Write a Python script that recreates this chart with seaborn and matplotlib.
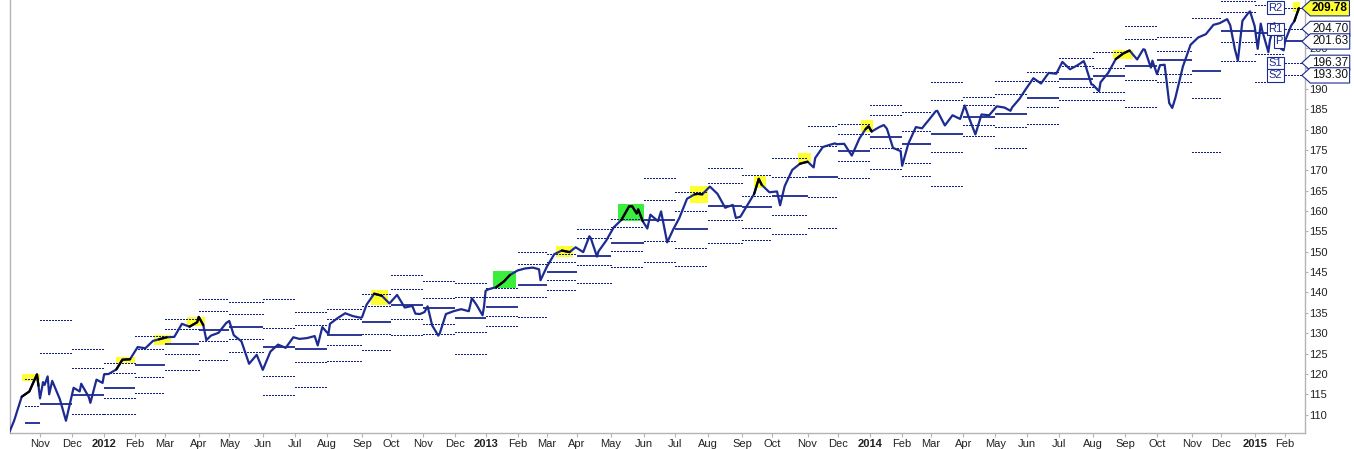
import numpy as np
import pandas as pd
import matplotlib
matplotlib.use("Agg")
import matplotlib.pyplot as plt
import matplotlib.transforms as mtransforms
from matplotlib.path import Path
from matplotlib.patches import Rectangle
import seaborn as sns

sns.set_theme(style="white")
plt.rcParams["font.family"] = ["Liberation Sans", "DejaVu Sans"]

# ---------------- data ----------------
first_day = "2011-10-04"
last_day = "2015-02-13"
market_holidays = ["2011-11-24", "2011-12-26", "2012-01-02", "2012-01-16", "2012-02-20",
                   "2012-04-06", "2012-05-28", "2012-07-04", "2012-09-03", "2012-10-29",
                   "2012-10-30", "2012-11-22", "2012-12-25", "2013-01-01", "2013-01-21",
                   "2013-02-18", "2013-03-29", "2013-05-27", "2013-07-04", "2013-09-02",
                   "2013-11-28", "2013-12-25", "2014-01-01", "2014-01-20", "2014-02-17",
                   "2014-04-18", "2014-05-26", "2014-07-04", "2014-09-01", "2014-11-27",
                   "2014-12-25", "2015-01-01", "2015-01-19"]

# first session, then the close of every week
weekly_close = [
    105.8, 108.5, 114.4, 115.7, 119.9, 117.3, 118.3, 113.8, 108.5, 116.6, 117.6, 114.3, 118.6, 117.8,
    120.0, 121.1, 123.5, 123.6, 126.6, 126.3, 128.1, 128.5, 129.0, 129.1, 132.3, 131.6, 132.7,
    132.0, 129.4, 130.1, 132.5, 129.5, 128.0, 122.5, 124.7, 121.0, 125.5, 127.2, 126.4, 129.0,
    128.6, 128.8, 129.3, 131.5, 132.3, 133.7, 134.9, 134.2, 133.8, 137.0, 139.7, 139.2, 137.3,
    139.4, 136.3, 136.7, 134.7, 135.2, 131.9, 130.0, 134.7, 135.4, 135.9, 135.4, 137.0, 134.4, 140.8,
    141.3, 142.7, 144.3, 145.4, 145.9, 146.1, 145.7, 146.2, 149.4, 150.3, 149.9, 151.1,
    149.9, 153.3, 150.1, 152.7, 156.0, 157.8, 161.1, 159.4, 157.5, 159.1, 157.5, 154.2, 155.5,
    158.3, 163.0, 164.1, 164.1, 166.0, 164.2, 160.8, 161.5, 158.6, 161.1, 164.2, 166.4, 164.6,
    164.8, 166.1, 170.1, 171.6, 172.1, 173.0, 175.7, 176.3, 176.4, 176.5, 173.6, 177.8, 180.1, 179.5,
    180.6, 180.2, 175.5, 174.7, 176.5, 180.6, 180.3, 182.6, 184.6, 181.0, 183.5, 182.6,
    183.7, 178.8, 183.7, 183.5, 185.7, 185.4, 185.4, 187.6, 189.9, 192.6, 191.3, 193.9, 193.7,
    196.6, 194.8, 195.8, 195.9, 191.0, 191.6, 193.9, 197.3, 198.7, 199.4, 197.2, 199.6, 196.9,
    195.8, 189.7, 187.7, 195.5, 200.8, 202.6, 203.4, 205.7, 206.1, 207.1, 199.8, 206.7, 208.7, 205.4,
    204.25, 201.9, 204.97, 199.45, 205.55, 209.78,
]

# notable single sessions between the weekly closes
extra_dates = ["2011-10-31", "2011-11-01", "2011-11-03", "2011-11-08", "2011-11-09", "2011-12-08",
               "2011-12-19", "2012-01-03", "2012-04-02", "2012-04-10", "2012-05-01", "2012-07-24",
               "2012-08-02", "2012-09-04", "2012-10-23", "2012-11-06", "2012-11-15", "2012-12-18",
               "2012-12-31", "2013-01-02", "2013-02-25", "2013-04-11", "2013-04-18", "2013-05-21",
               "2013-05-28", "2013-06-05", "2013-06-18", "2013-06-24", "2013-07-23", "2013-08-27",
               "2013-09-18", "2013-10-08", "2013-11-07", "2013-11-27", "2013-12-31", "2014-01-15",
               "2014-02-03", "2014-03-06", "2014-04-02", "2014-05-15", "2014-07-24", "2014-07-31",
               "2014-08-07", "2014-09-18", "2014-09-25", "2014-10-01", "2014-10-08", "2014-10-13",
               "2014-10-15", "2014-12-09", "2014-12-16", "2014-12-29", "2015-01-06", "2015-01-08",
               "2015-01-15", "2015-01-22", "2015-01-26", "2015-01-28", "2015-02-02", "2015-02-10"]
extra_close = [117.1, 114.0, 118.0, 119.4, 115.0, 115.7,
               112.9, 119.9, 134.0, 128.3, 133.0, 127.0,
               129.8, 133.9, 134.8, 136.6, 129.4, 138.6,
               136.6, 140.4, 143.0, 153.8, 148.8, 161.2,
               160.4, 155.7, 159.9, 152.3, 164.2, 158.3,
               167.9, 161.4, 170.7, 176.6, 180.8, 181.1,
               171.1, 184.5, 185.9, 184.6, 196.8, 191.1,
               189.4, 199.7, 195.2, 193.6, 195.9, 186.5,
               185.3, 205.6, 196.9, 209.0, 199.8, 206.0,
               199.0, 206.1, 205.4, 199.9, 201.8, 206.6]

# previous-month high / low / close used for the monthly pivots (Sep 2011 .. Jan 2015)
prev_high = [114.57, 120.77, 119.58, 118.94, 125.22, 129.67, 133.69, 134.27, 133.89, 129.12,
             132.07, 135.68, 140.52, 140.33, 137.12, 138.72, 144.95, 147.12, 151.22, 154.17,
             162.98, 160.13, 164.78, 166.01, 168.32, 173.08, 177.19, 180.87, 181.38, 183.43,
             185.20, 186.88, 189.90, 194.46, 197.15, 198.90, 200.52, 200.81, 206.96, 208.94, 206.88]
prev_low = [103.84, 100.39, 108.45, 112.66, 118.21, 123.50, 126.23, 128.14, 122.13, 119.96,
            125.78, 128.83, 133.10, 133.87, 128.43, 133.94, 136.92, 142.71, 144.59, 148.22,
            152.75, 151.04, 155.65, 158.03, 158.93, 160.53, 170.60, 172.91, 173.51, 170.66,
            180.32, 178.72, 183.56, 189.30, 191.14, 188.96, 195.03, 181.16, 199.50, 196.87, 198.55]
prev_close = [105.45, 117.06, 116.72, 117.84, 123.23, 128.51, 132.68, 131.96, 123.95, 129.00,
              130.90, 133.77, 137.30, 134.72, 135.39, 136.63, 143.82, 145.56, 151.11, 154.17,
              157.53, 155.49, 163.51, 158.56, 163.62, 171.26, 176.43, 180.77, 174.69, 182.60,
              184.05, 185.57, 189.86, 193.67, 191.14, 198.74, 195.85, 200.80, 206.14, 205.48, 199.45]
pivot_first_start = "2011-10-18"

# highlighted stretches (price reaching R2 / beyond)
hl_start = ["2011-10-14", "2012-01-13", "2012-02-21", "2012-03-21", "2012-09-12", "2013-01-09",
            "2013-03-11", "2013-05-08", "2013-07-16", "2013-09-13", "2013-10-24", "2013-12-23",
            "2014-08-20", "2015-02-09"]
hl_end = ["2011-10-31", "2012-01-31", "2012-03-06", "2012-04-05", "2012-09-26", "2013-01-30",
          "2013-03-25", "2013-05-31", "2013-07-31", "2013-09-24", "2013-11-04", "2014-01-03",
          "2014-09-08", "2015-02-13"]
hl_low = [118.3, 122.6, 127.1, 131.8, 136.9, 141.1, 148.8, 157.6, 161.9, 165.6, 171.7, 179.5, 197.2, 208.9]
hl_high = [119.9, 124.1, 129.6, 134.0, 140.5, 145.3, 151.5, 161.7, 166.1, 168.6, 174.3, 182.3, 199.5, 211.2]
hl_kind = ["y", "y", "y", "y", "y", "g", "y", "g", "y", "y", "y", "y", "y", "y"]

month_labels = ["Nov", "Dec",
                "2012", "Feb", "Mar", "Apr", "May", "Jun", "Jul", "Aug", "Sep", "Oct", "Nov", "Dec",
                "2013", "Feb", "Mar", "Apr", "May", "Jun", "Jul", "Aug", "Sep", "Oct", "Nov", "Dec",
                "2014", "Feb", "Mar", "Apr", "May", "Jun", "Jul", "Aug", "Sep", "Oct", "Nov", "Dec",
                "2015", "Feb"]
y_tick_values = list(range(110, 211, 5))
y_tick_hidden = [195, 205, 210]          # covered by the level tags in the reference
pivot_names = ["R2", "R1", "P", "S1", "S2"]

# ---------------- build ----------------
days = pd.bdate_range(first_day, last_day)
days = days[~days.isin(pd.to_datetime(market_holidays))]
day_pos = pd.Series(np.arange(len(days)), index=days)
x_right = len(days) + 3

week_ends = pd.Series(days, index=days).groupby(days.to_period("W-FRI")).max()
sample_dates = pd.DatetimeIndex([days[0]]).append(pd.DatetimeIndex(week_ends.values))
price = pd.Series(weekly_close, index=sample_dates)
extra = pd.Series(extra_close, index=pd.to_datetime(extra_dates))
price = pd.concat([price, extra])
price = price[~price.index.duplicated()].sort_index()
df = pd.DataFrame({"x": day_pos[price.index].values, "close": price.values,
                   "date": price.index})

NAVY = "#1c2b8f"
LINE = "#111f86"

fig = plt.figure(figsize=(13.54, 4.49), dpi=100)
ax = fig.add_axes([9.5 / 1354, 16 / 449, (1305 - 9.5) / 1354, 433 / 449])

# highlights
for s, e, lo, hi, k in zip(hl_start, hl_end, hl_low, hl_high, hl_kind):
    xs = np.searchsorted(days, pd.Timestamp(s))
    xe = min(np.searchsorted(days, pd.Timestamp(e)) + 1, x_right)
    ax.add_patch(Rectangle((xs, lo), xe - xs, hi - lo,
                           facecolor="#ffff30" if k == "y" else "#3cee3c",
                           edgecolor="none", zorder=1))

# monthly pivots
months = pd.period_range("2011-10", "2015-02", freq="M")
day_months = days.to_period("M")
levels_last = None
for i, m in enumerate(months):
    H, L, C = prev_high[i], prev_low[i], prev_close[i]
    P = (H + L + C) / 3
    R1, S1 = 2 * P - L, 2 * P - H
    R2, S2 = P + (H - L), P - (H - L)
    mdays = days[day_months == m]
    xs = day_pos[mdays[0]] if i > 0 else day_pos[pd.Timestamp(pivot_first_start)]
    xe = day_pos[mdays[-1]] + 1 if i < len(months) - 1 else x_right
    for lvl in (R2, R1, S1, S2):
        ax.hlines(lvl, xs, xe, colors=LINE, linewidth=0.75, linestyles=(0, (1.3, 1.3)),
                  antialiased=False, zorder=2)
    ax.hlines(P, xs, xe, colors=LINE, linewidth=1.25, zorder=2)
    levels_last = dict(R2=R2, R1=R1, P=P, S1=S1, S2=S2)
    feb_start = xs

# price line
sns.lineplot(data=df, x="x", y="close", ax=ax, color=NAVY, linewidth=1.6,
             estimator=None, sort=False, zorder=3)
for s, e in zip(hl_start, hl_end):
    seg = df[(df["date"] >= pd.Timestamp(s)) & (df["date"] <= pd.Timestamp(e))]
    if len(seg) >= 2:
        ax.plot(seg["x"], seg["close"], color="black", linewidth=1.6, zorder=4)

# axes
ax.set_xlim(0, x_right)
ax.set_ylim(105.5, 211.8)
ax.set_xlabel("")
ax.set_ylabel("")
for side in ("left", "bottom", "right"):
    ax.spines[side].set_visible(True)
    ax.spines[side].set_color("#b4b4b4")
    ax.spines[side].set_linewidth(1.0)
ax.spines["top"].set_visible(False)

month_starts = [day_pos[days[day_months == m][0]] for m in months[1:]]
ax.set_xticks(month_starts)
ax.set_xticklabels(month_labels)
for lab in ax.get_xticklabels():
    if lab.get_text().isdigit():
        lab.set_fontweight("bold")
        lab.set_fontsize(8.5)
ax.yaxis.tick_right()
ax.set_yticks(y_tick_values)
ax.set_yticklabels(["" if v in y_tick_hidden else f"{v}" for v in y_tick_values])
ax.tick_params(axis="x", length=3, width=0.8, color="#b4b4b4", pad=1,
               labelsize=8, labelcolor="#222222", bottom=True)
ax.tick_params(axis="y", length=2, width=0.8, color="#b4b4b4", pad=1,
               labelsize=8, labelcolor="#222222", right=True, left=False)
ax.grid(False)


def tag_box(x0, y0, width, height, mutation_size):
    pad = 0.14 * mutation_size
    x0, y0 = x0 - pad, y0 - pad
    w, h = width + 2 * pad, height + 2 * pad
    tip = 0.55 * h
    verts = [(x0, y0), (x0 + w, y0), (x0 + w, y0 + h), (x0, y0 + h),
             (x0 - tip, y0 + h / 2), (x0, y0)]
    codes = [Path.MOVETO, Path.LINETO, Path.LINETO, Path.LINETO, Path.LINETO, Path.CLOSEPOLY]
    return Path(verts, codes)


# pivot names at the last month
for name in pivot_names:
    ax.annotate(name, xy=(feb_start, levels_last[name]), xytext=(-2.0, 0),
                textcoords="offset points", ha="right", va="center", fontsize=8,
                color=NAVY, zorder=10,
                bbox=dict(boxstyle="square,pad=0.12", facecolor="white",
                          edgecolor=NAVY, linewidth=0.8))

trans = mtransforms.blended_transform_factory(ax.transAxes, ax.transData)
for name in ["R1", "P", "S1", "S2"]:
    ax.annotate(f"{levels_last[name]:.2f}", xy=(1, levels_last[name]), xycoords=trans,
                xytext=(5, 0), textcoords="offset points", ha="left", va="center",
                fontsize=8.5, color="#111111", zorder=10, annotation_clip=False,
                bbox=dict(boxstyle=tag_box, facecolor="white", edgecolor=NAVY, linewidth=0.8))
ax.annotate(f"{weekly_close[-1]:.2f}", xy=(1, weekly_close[-1]), xycoords=trans,
            xytext=(5, 0), textcoords="offset points", ha="left", va="center",
            fontsize=8.5, fontweight="bold", color="black", zorder=11, annotation_clip=False,
            bbox=dict(boxstyle=tag_box, facecolor="#ffff30", edgecolor=NAVY, linewidth=0.8))

fig.savefig("out.png", dpi=100, facecolor="white")
